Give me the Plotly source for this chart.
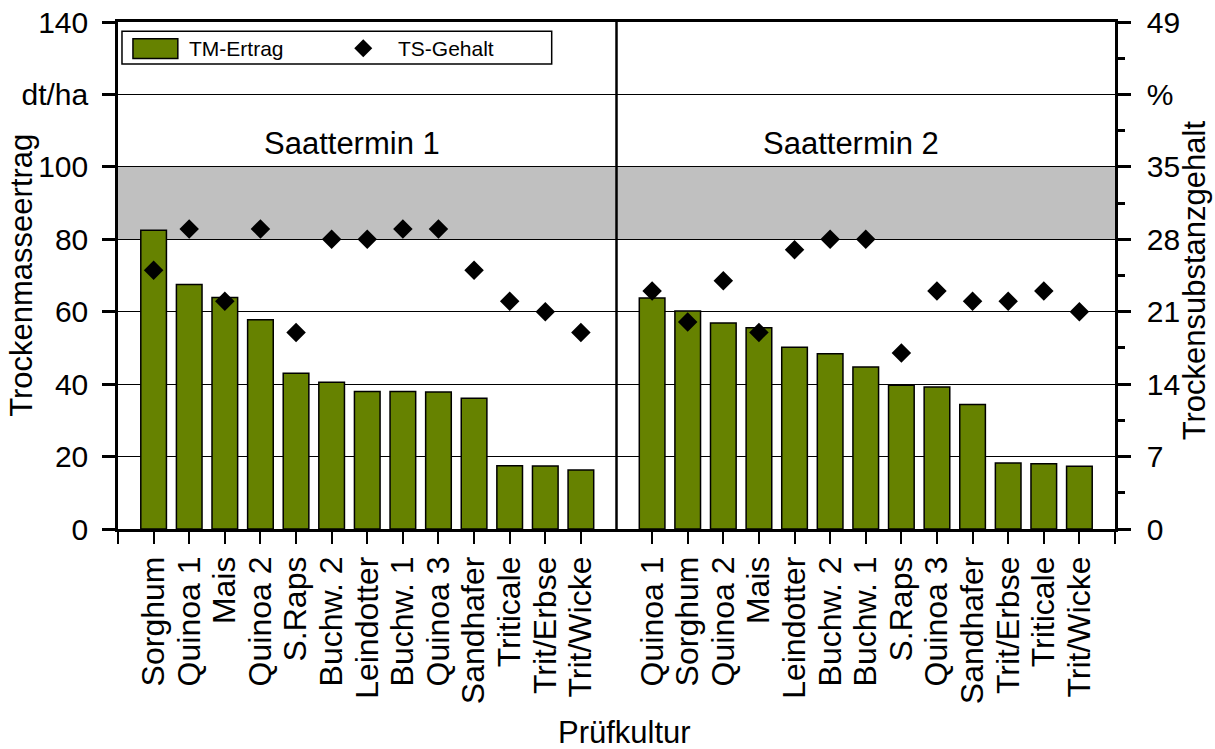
import plotly.graph_objects as go

# Saattermin 1
kultur_1 = ["Sorghum", "Quinoa 1", "Mais", "Quinoa 2", "S.Raps", "Buchw. 2", "Leindotter",
            "Buchw. 1", "Quinoa 3", "Sandhafer", "Triticale", "Trit/Erbse", "Trit/Wicke"]
tm_ertrag_1 = [82.5, 67.5, 63.9, 57.8, 43.0, 40.5, 38.0, 38.0, 37.8, 36.1, 17.5, 17.4, 16.3]
ts_gehalt_1 = [25, 29, 22, 29, 19, 28, 28, 29, 29, 25, 22, 21, 19]

# Saattermin 2
kultur_2 = ["Quinoa 1", "Sorghum", "Quinoa 2", "Mais", "Leindotter", "Buchw. 2", "Buchw. 1",
            "S.Raps", "Quinoa 3", "Sandhafer", "Trit/Erbse", "Triticale", "Trit/Wicke"]
tm_ertrag_2 = [63.8, 60.2, 56.9, 55.6, 50.2, 48.4, 44.7, 39.7, 39.2, 34.4, 18.2, 18.0, 17.3]
ts_gehalt_2 = [23, 20, 24, 19, 27, 28, 28, 17, 23, 22, 22, 23, 21]

# Axis tick labels
y_left_ticks = [0, 20, 40, 60, 80, 100, 120, 140]
y_left_text = ["0", "20", "40", "60", "80", "100", "dt/ha", "140"]
y_right_ticks = [0, 7, 14, 21, 28, 35, 42, 49]
y_right_text = ["0", "7", "14", "21", "28", "35", "%", "49"]

# Slot positions: group 1 at 1..13, divider at 14, group 2 at 15..27
n1, n2 = len(kultur_1), len(kultur_2)
pos_1 = [i + 1 for i in range(n1)]
divider = n1 + 1
pos_2 = [divider + 1 + i for i in range(n2)]
x_end = pos_2[-1] + 1

x_pos = pos_1 + pos_2
tm_all = tm_ertrag_1 + tm_ertrag_2
ts_all = ts_gehalt_1 + ts_gehalt_2

FONT = "Arial, Liberation Sans, sans-serif"
GREEN = "#668200"

fig = go.Figure()
fig.add_trace(go.Bar(
    x=x_pos, y=tm_all, width=0.72, name="TM-Ertrag",
    marker=dict(color=GREEN, line=dict(color="black", width=1.5)),
    showlegend=False,
))
fig.add_trace(go.Scatter(
    x=x_pos, y=ts_all, yaxis="y2", mode="markers", name="TS-Gehalt",
    marker=dict(symbol="diamond", size=15, color="black"),
    showlegend=False,
))

tick_vals_x = [0] + pos_1 + pos_2 + [x_end]
tick_text_x = [""] + kultur_1 + kultur_2 + [""]

fig.update_layout(
    width=1215, height=749,
    margin=dict(l=118, r=100, t=22, b=220, autoexpand=False),
    paper_bgcolor="white", plot_bgcolor="white",
    font=dict(family=FONT, size=30, color="black"),
    xaxis=dict(
        range=[0, x_end], tickmode="array", tickvals=tick_vals_x, ticktext=tick_text_x,
        tickangle=-90, ticks="outside", ticklen=12, tickwidth=2, tickcolor="black",
        showline=True, linecolor="black", linewidth=2.5, mirror=True,
        showgrid=False, zeroline=False, ticklabelstandoff=0,
        tickfont=dict(size=32),
    ),
    yaxis=dict(
        range=[0, 140], tickmode="array", tickvals=y_left_ticks, ticktext=y_left_text,
        ticks="outside", ticklen=13, tickwidth=2.5, tickcolor="black",
        showline=True, linecolor="black", linewidth=2.5,
        showgrid=True, gridcolor="black", gridwidth=1, zeroline=False,
        ticklabelstandoff=8, tickfont=dict(size=30),
    ),
    yaxis2=dict(
        range=[0, 49], overlaying="y", side="right", tickmode="array",
        tickvals=y_right_ticks, ticktext=y_right_text,
        ticks="outside", ticklen=13, tickwidth=2.5, tickcolor="black",
        minor=dict(dtick=3.5, ticks="outside", ticklen=7, tickwidth=2.5, tickcolor="black"),
        showline=True, linecolor="black", linewidth=2.5,
        showgrid=False, zeroline=False, ticklabelstandoff=10, tickfont=dict(size=30),
    ),
    bargap=0.28,
)

shapes = [
    # Zielbereich 80-100 dt/ha
    dict(type="rect", xref="x", yref="y", x0=0, x1=x_end, y0=80, y1=100,
         fillcolor="#C0C0C0", line=dict(width=0), layer="below"),
    # Trennlinie zwischen den Saatterminen
    dict(type="line", xref="x", yref="y", x0=divider, x1=divider, y0=0, y1=140,
         line=dict(color="black", width=2.5), layer="above"),
    # Legendenrahmen
    dict(type="rect", xref="paper", yref="paper", x0=0.004, x1=0.435, y0=0.917, y1=0.982,
         fillcolor="white", line=dict(color="black", width=1.5), layer="above"),
    # Legendensymbol Balken
    dict(type="rect", xref="paper", yref="paper", x0=0.015, x1=0.060, y0=0.928, y1=0.967,
         fillcolor=GREEN, line=dict(color="black", width=1.5), layer="above"),
    # Legendensymbol Raute
    dict(type="path", xref="paper", yref="paper", xsizemode="pixel", ysizemode="pixel",
         xanchor=0.246, yanchor=0.948, path="M -9 0 L 0 9 L 9 0 L 0 -9 Z",
         fillcolor="black", line=dict(color="black", width=0), layer="above"),
]
fig.update_layout(shapes=shapes)

annotations = [
    dict(text="TM-Ertrag", xref="paper", yref="paper", x=0.069, y=0.948,
         xanchor="left", yanchor="middle", showarrow=False, font=dict(size=21)),
    dict(text="TS-Gehalt", xref="paper", yref="paper", x=0.279, y=0.948,
         xanchor="left", yanchor="middle", showarrow=False, font=dict(size=21)),
    dict(text="Saattermin 1", xref="x", yref="y", x=6.57, y=106.5,
         xanchor="center", yanchor="middle", showarrow=False, font=dict(size=31)),
    dict(text="Saattermin 2", xref="x", yref="y", x=20.59, y=106.5,
         xanchor="center", yanchor="middle", showarrow=False, font=dict(size=31)),
    dict(text="Trockenmasseertrag", xref="paper", yref="paper", x=-0.097, y=0.5,
         xanchor="center", yanchor="middle", textangle=-90, showarrow=False,
         font=dict(size=31)),
    dict(text="Trockensubstanzgehalt", xref="paper", yref="paper", x=1.08, y=0.49,
         xanchor="center", yanchor="middle", textangle=-90, showarrow=False,
         font=dict(size=31)),
    dict(text="Prüfkultur", xref="paper", yref="paper", x=0.5085, y=-0.401,
         xanchor="center", yanchor="middle", showarrow=False, font=dict(size=31)),
]
fig.update_layout(annotations=annotations)

fig.write_html("out.html")
